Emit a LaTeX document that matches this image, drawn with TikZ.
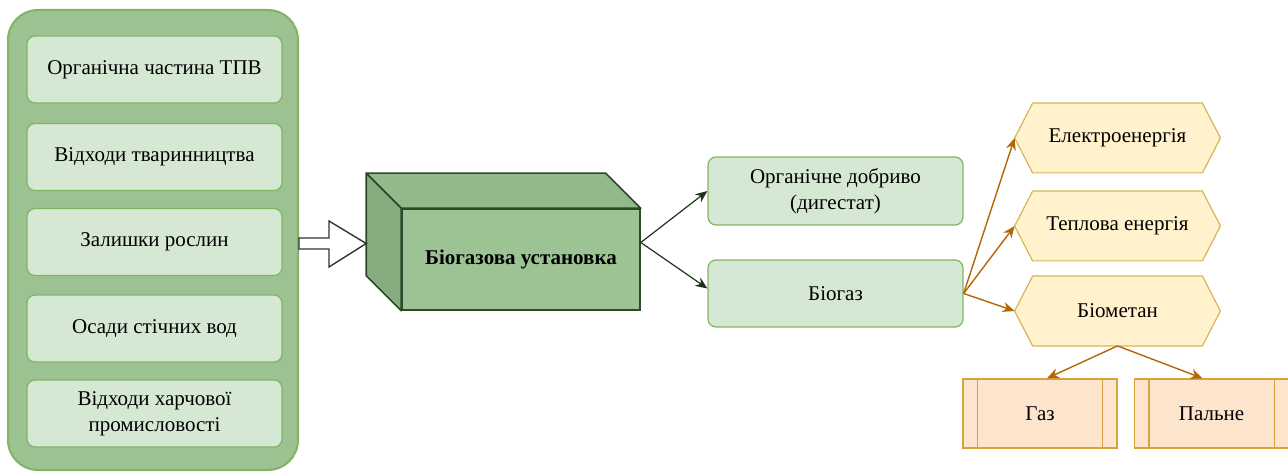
\documentclass[tikz,border=0pt]{standalone}
\usepackage{fontspec}
\IfFontExistsTF{LiberationSerif-Regular.ttf}
  {\newfontfamily\diagserif{LiberationSerif-Regular.ttf}[BoldFont=LiberationSerif-Bold.ttf]}
  {\newfontfamily\diagserif{DejaVu Serif}}
\usetikzlibrary{arrows.meta,calc,backgrounds}
\definecolor{contfill}{HTML}{9DC291}
\definecolor{contline}{HTML}{82B366}
\definecolor{boxfill}{HTML}{D5E8D4}
\definecolor{boxline}{HTML}{82B366}
\definecolor{cubefront}{HTML}{9DC394}
\definecolor{cubetop}{HTML}{93B88A}
\definecolor{cubeside}{HTML}{87AC7F}
\definecolor{cubeline}{HTML}{2B4A28}
\definecolor{darkarrow}{HTML}{1F331C}
\definecolor{orangearrow}{HTML}{B46504}
\definecolor{hexfill}{HTML}{FFF2CC}
\definecolor{hexline}{HTML}{D6B656}
\definecolor{procfill}{HTML}{FDE4CC}
\definecolor{procline}{HTML}{D6A43A}
\begin{document}
\begin{tikzpicture}[x=0.5pt,y=-0.5pt,
  font=\diagserif\fontsize{10.5}{13}\selectfont,
  container/.style={draw=contline, fill=contfill, line width=1pt, rounded corners=15pt},
  srcbox/.style={draw=boxline, fill=boxfill, line width=0.6pt, rounded corners=4pt,
    minimum width=127.5pt, minimum height=33.5pt, align=center, inner sep=2pt},
  outbox/.style={draw=boxline, fill=boxfill, line width=0.6pt, rounded corners=4pt,
    minimum width=127.5pt, minimum height=34pt, align=center, inner sep=2pt},
  cubebox/.style={draw=cubeline, fill=cubefront, line width=0.8pt,
    minimum width=119pt, minimum height=50.5pt, font=\diagserif\fontsize{10.5}{13}\selectfont\bfseries},
  hexnode/.style={minimum width=102.5pt, minimum height=34.5pt, inner sep=0pt},
  hexshape/.style={draw=hexline, fill=hexfill, line width=0.6pt},
  procbox/.style={draw=procline, fill=procfill, line width=0.7pt,
    minimum width=77pt, minimum height=34.5pt},
  darrow/.style={draw=darkarrow, line width=0.6pt, -{Stealth[length=6pt,width=5pt]}},
  oarrow/.style={draw=orangearrow, line width=0.7pt, -{Stealth[length=6pt,width=5pt]}},
  hollow/.style={draw=black!80, fill=white, line width=0.7pt, line join=miter}
]
\useasboundingbox (0,0) rectangle (1288,475);

% left container
\node[container, minimum width=145pt, minimum height=230pt] (cont) at (153,240) {};
\node[srcbox] (s1) at (154.5,69.5) {Органічна частина ТПВ};
\node[srcbox] (s2) at (154.5,157) {Відходи тваринництва};
\node[srcbox] (s3) at (154.5,242) {Залишки рослин};
\node[srcbox] (s4) at (154.5,328.5) {Осади стічних вод};
\node[srcbox] (s5) at (154.5,413.5) {Відходи харчової\\промисловості};

% cube
\node[cubebox] (bu) at (521,259.5) {Біогазова установка};
\draw[draw=cubeline, fill=cubetop, line width=0.8pt, line join=round]
  (bu.north west) -- ($(bu.north west)+(-35,-35)$) -- ($(bu.north east)+(-35,-35)$)
  -- (bu.north east) -- cycle;
\draw[draw=cubeline, fill=cubeside, line width=0.8pt, line join=round]
  (bu.north west) -- ($(bu.north west)+(-35,-35)$) -- ($(bu.south west)+(-35,-35)$)
  -- (bu.south west) -- cycle;

% hollow arrow from container to cube
\coordinate (hs) at (cont.east |- 0,243.5);
\coordinate (ht) at ($(bu.north west)+(-35,0)$);
\draw[hollow] ($(hs)+(0,-5.5)$) -- ++(30,0) -- ++(0,-17) -- (ht |- hs)
  -- ($(hs)+(30,23.5)$) -- ++(0,-18) -- ($(hs)+(0,5.5)$) -- cycle;

% outputs
\node[outbox] (dig) at (835.5,191) {Органічне добриво\\(дигестат)};
\node[outbox, minimum height=33.5pt] (bg) at (835.5,293.5) {Біогаз};
\coordinate (bo) at ($(bu.east)+(0,-17)$);
\draw[darrow] (bo) -- (dig.west);
\draw[darrow] (bo) -- ([yshift=2.5pt]bg.west);

% hexagons
\node[hexnode] (el) at (1117.5,138) {Електроенергія};
\node[hexnode] (tp) at (1117.5,226) {Теплова енергія};
\node[hexnode] (bm) at (1117.5,311) {Біометан};
\begin{scope}[on background layer]
\foreach \n in {el,tp,bm}{
  \draw[hexshape] (\n.west) -- ($(\n.north west)+(18,0)$) -- ($(\n.north east)+(-18,0)$)
    -- (\n.east) -- ($(\n.south east)+(-18,0)$) -- ($(\n.south west)+(18,0)$) -- cycle;
}
\end{scope}

\draw[oarrow] (bg.east) -- (el.west);
\draw[oarrow] (bg.east) -- (tp.west);
\draw[oarrow] (bg.east) -- (bm.west);

% process boxes
\node[procbox] (gas) at (1040,413.5) {Газ};
\node[procbox] (fuel) at (1211.5,413.5) {Пальне};
\foreach \n in {gas,fuel}{
  \draw[draw=procline, line width=0.7pt] ($(\n.north west)+(15,0)$) -- ($(\n.south west)+(15,0)$);
  \draw[draw=procline, line width=0.7pt] ($(\n.north east)+(-15,0)$) -- ($(\n.south east)+(-15,0)$);
}
\draw[oarrow] (bm.south) -- ([xshift=3.5pt]gas.north);
\draw[oarrow] (bm.south) -- ([xshift=-4.5pt]fuel.north);
\end{tikzpicture}
\end{document}
